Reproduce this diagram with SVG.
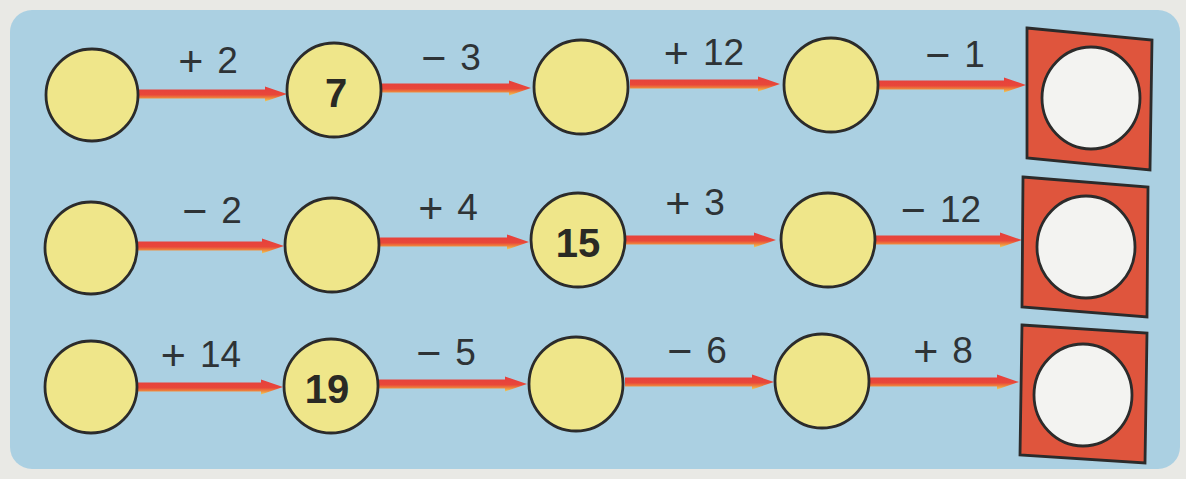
<svg xmlns="http://www.w3.org/2000/svg" width="1186" height="479" viewBox="0 0 1186 479">
  <style>
    .bg { fill: #e9e9e5; }
    .panel { fill: #abd0e2; }
    .node { fill: #efe68a; stroke: #2b2b2b; stroke-width: 2.8; }
    .box { fill: #df553d; stroke: #2b2b2b; stroke-width: 2.8; }
    .hole { fill: #f3f3f1; stroke: #2b2b2b; stroke-width: 2.8; }
    .arrow { fill: url(#arrowGrad); }
    .lbl { font-family: "Liberation Sans", Arial, sans-serif; font-size: 37px; fill: #2e3336; text-anchor: middle; }
    .sg { font-size: 43px; }
    .num { font-family: "Liberation Sans", Arial, sans-serif; font-size: 40px; font-weight: bold; fill: #2a2a24; text-anchor: middle; }
  </style>
  <defs>
    <linearGradient id="arrowGrad" x1="0" y1="0" x2="0" y2="1">
      <stop offset="0" stop-color="#e63f3c"/>
      <stop offset="0.55" stop-color="#e8473a"/>
      <stop offset="0.78" stop-color="#ef8a3c"/>
      <stop offset="1" stop-color="#e9cf62"/>
    </linearGradient>
  </defs>
  <rect class="bg" x="0" y="0" width="1186" height="479"/>
  <rect class="panel" x="10" y="10" width="1170" height="459" rx="22"/>

  <g id="connectors">
    <!-- row 1 -->
    <path class="arrow" d="M138 89.5 H265 V86.5 L287 94 L265 101.5 V98.5 H138 Z"/>
    <path class="arrow" d="M382 83.5 H509 V80.5 L531 88 L509 95.5 V92.5 H382 Z"/>
    <path class="arrow" d="M630 79.5 H758 V76.5 L780 84 L758 91.5 V88.5 H630 Z"/>
    <path class="arrow" d="M878 80.5 H1004 V77.5 L1026 85 L1004 92.5 V89.5 H878 Z"/>
    <!-- row 2 -->
    <path class="arrow" d="M137 241.5 H262 V238.5 L284 246 L262 253.5 V250.5 H137 Z"/>
    <path class="arrow" d="M380 237.5 H507 V234.5 L529 242 L507 249.5 V246.5 H380 Z"/>
    <path class="arrow" d="M626 235.5 H754 V232.5 L776 240 L754 247.5 V244.5 H626 Z"/>
    <path class="arrow" d="M876 235.5 H1000 V232.5 L1022 240 L1000 247.5 V244.5 H876 Z"/>
    <!-- row 3 -->
    <path class="arrow" d="M137 382.5 H261 V379.5 L283 387 L261 394.5 V391.5 H137 Z"/>
    <path class="arrow" d="M378 379.5 H505 V376.5 L527 384 L505 391.5 V388.5 H378 Z"/>
    <path class="arrow" d="M625 377.5 H752 V374.5 L774 382 L752 389.5 V386.5 H625 Z"/>
    <path class="arrow" d="M870 377.5 H997 V374.5 L1019 382 L997 389.5 V386.5 H870 Z"/>
  </g>

  <g id="labels">
    <text class="lbl" x="208" y="73"><tspan class="sg" dy="3">+</tspan><tspan dx="14" dy="-3">2</tspan></text>
    <text class="lbl" x="451" y="70"><tspan class="sg" dy="3">−</tspan><tspan dx="14" dy="-3">3</tspan></text>
    <text class="lbl" x="704" y="65"><tspan class="sg" dy="3">+</tspan><tspan dx="14" dy="-3">12</tspan></text>
    <text class="lbl" x="955" y="67"><tspan class="sg" dy="3">−</tspan><tspan dx="14" dy="-3">1</tspan></text>
    <text class="lbl" x="212" y="223"><tspan class="sg" dy="3">−</tspan><tspan dx="14" dy="-3">2</tspan></text>
    <text class="lbl" x="448" y="220"><tspan class="sg" dy="3">+</tspan><tspan dx="14" dy="-3">4</tspan></text>
    <text class="lbl" x="695" y="215"><tspan class="sg" dy="3">+</tspan><tspan dx="14" dy="-3">3</tspan></text>
    <text class="lbl" x="941" y="222"><tspan class="sg" dy="3">−</tspan><tspan dx="14" dy="-3">12</tspan></text>
    <text class="lbl" x="201" y="367"><tspan class="sg" dy="3">+</tspan><tspan dx="14" dy="-3">14</tspan></text>
    <text class="lbl" x="446" y="365"><tspan class="sg" dy="3">−</tspan><tspan dx="14" dy="-3">5</tspan></text>
    <text class="lbl" x="697" y="363"><tspan class="sg" dy="3">−</tspan><tspan dx="14" dy="-3">6</tspan></text>
    <text class="lbl" x="943" y="363"><tspan class="sg" dy="3">+</tspan><tspan dx="14" dy="-3">8</tspan></text>
  </g>

  <!-- row 1 nodes -->
  <g id="r1n1"><circle class="node" cx="92" cy="95" r="46"/></g>
  <g id="r1n2"><circle class="node" cx="334" cy="90" r="47"/><text class="num" x="336" y="107">7</text></g>
  <g id="r1n3"><circle class="node" cx="581" cy="87" r="47"/></g>
  <g id="r1n4"><circle class="node" cx="831" cy="85" r="47"/></g>
  <g id="r1end">
    <polygon class="box" points="1027,28 1152,40 1150,170 1027,158"/>
    <ellipse class="hole" cx="1091" cy="98" rx="49" ry="51"/>
  </g>

  <!-- row 2 nodes -->
  <g id="r2n1"><circle class="node" cx="91" cy="248" r="46"/></g>
  <g id="r2n2"><circle class="node" cx="332" cy="245" r="47"/></g>
  <g id="r2n3"><circle class="node" cx="578" cy="240" r="47"/><text class="num" x="578" y="257">15</text></g>
  <g id="r2n4"><circle class="node" cx="828" cy="240" r="47"/></g>
  <g id="r2end">
    <polygon class="box" points="1023,177 1148,187 1147,317 1022,307"/>
    <ellipse class="hole" cx="1086" cy="247" rx="49" ry="51"/>
  </g>

  <!-- row 3 nodes -->
  <g id="r3n1"><circle class="node" cx="91" cy="387" r="46"/></g>
  <g id="r3n2"><circle class="node" cx="331" cy="386" r="47"/><text class="num" x="327" y="403">19</text></g>
  <g id="r3n3"><circle class="node" cx="576" cy="384" r="47"/></g>
  <g id="r3n4"><circle class="node" cx="822" cy="381" r="47"/></g>
  <g id="r3end">
    <polygon class="box" points="1022,325 1147,333 1145,463 1020,455"/>
    <ellipse class="hole" cx="1083" cy="395" rx="49" ry="51"/>
  </g>
</svg>
